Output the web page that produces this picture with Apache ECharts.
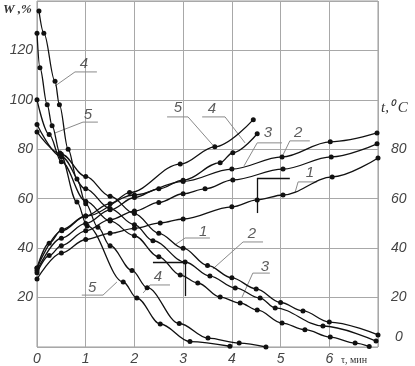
<!DOCTYPE html>
<html><head><meta charset="utf-8">
<script src="https://cdn.jsdelivr.net/npm/echarts@6/dist/echarts.min.js"></script>
<style>html,body{margin:0;padding:0;background:#fff}#c{width:415px;height:366px}</style>
</head><body><div id="c"></div>
<script>
// tick labels
const xTickLabels = [0, 1, 2, 3, 4, 5, 6];
const wTickLabels = [20, 40, 60, 80, 100, 120];
const tTickLabels = [0, 20, 40, 60, 80];

// moisture W, % (left axis) vs time, min
const w1X = [0, 0.5, 1, 1.5, 2, 2.5, 3, 3.5, 4, 4.5, 5, 5.46, 6, 7];
const w1Y = [87, 78, 69, 61, 54, 46, 40, 33, 28, 23.5, 18, 14.6, 10.1, 4.9];
const w2X = [0, 0.5, 1, 1.5, 2, 2.38, 3.04, 3.55, 4.07, 4.58, 4.89, 5.87, 6.96];
const w2Y = [90, 77, 64, 56, 49.5, 43, 34.4, 28.7, 23.9, 19.8, 15.8, 8.5, 2.4];
const w3X = [0, 0.25, 0.5, 1, 1.5, 2, 2.5, 2.94, 3.3, 3.76, 4.17, 4.52, 5.03, 5.5, 6.02, 6.53, 6.82];
const w3Y = [100, 86, 75, 59, 51, 45, 36.5, 29.1, 25.9, 20.2, 17.8, 15, 9.7, 7, 4, 1.6, 0.2];
const w4X = [0.04, 0.14, 0.37, 0.46, 0.64, 0.82, 1.0, 1.25, 1.5, 1.95, 2.26, 2.92, 3.51, 4.15, 4.7];
const w4Y = [136, 127, 107.5, 98, 80, 68, 58, 48.5, 41, 31, 24, 9.5, 3.6, 1.6, 0];
const w5X = [0, 0.06, 0.21, 0.31, 0.47, 0.82, 1.03, 1.77, 2.05, 2.53, 3.14, 3.96];
const w5Y = [127, 113, 98, 89.5, 78.5, 58.7, 49, 26.3, 19.8, 9.3, 2.2, 0.3];

// temperature t, °C (right axis) vs time, min
const t1X = [0, 0.5, 1, 1.5, 2, 2.53, 3, 4, 4.52, 5.05, 6.06, 7];
const t1Y = [27.5, 38, 43.5, 46, 48, 50.2, 51.8, 56.7, 59.5, 61.5, 68.8, 76.5];
const t2X = [0, 0.51, 1, 2, 3, 4, 5.03, 6.02, 6.98];
const t2Y = [32, 47, 53, 61.5, 67, 72, 76.9, 83, 86.6];
const t3X = [0, 0.25, 0.5, 1, 1.5, 2, 2.5, 3, 3.45, 4.02, 5.05, 6.04, 6.98];
const t3Y = [30, 37, 41, 47, 51.5, 55, 58.5, 62, 64, 67.6, 72, 76.9, 82.2];
const t4X = [0, 0.5, 1, 1.5, 2, 2.5, 3, 3.76, 4.02, 4.52];
const t4Y = [31, 44, 50, 55.5, 60.5, 64, 67.5, 74.6, 78.6, 86.3];
const t5X = [0, 0.25, 0.51, 1, 1.5, 1.9, 2.94, 3.65, 4.44];
const t5Y = [32, 42, 47.5, 53, 58, 62.5, 74, 81, 92];

// curve number annotations (data coordinates): text point and leader polyline
const annotations = [
  {text: '4', at: [0.965, 114.5], leader: [[1.23, 111.3], [0.78, 111.3], [0.37, 105.6]]},
  {text: '5', at: [1.047, 94], leader: [[1.25, 91], [0.944, 91], [0.37, 86.6]]},
  {text: '5', at: [2.895, 96.7], leader: [[2.67, 93.1], [3.1, 93.1], [3.61, 81.7]]},
  {text: '4', at: [3.59, 96.3], leader: [[3.39, 93.1], [3.86, 93.1], [4.27, 82.6]]},
  {text: '3', at: [4.74, 86.5], leader: [[5.03, 82.6], [4.52, 82.6], [4.25, 73.3]]},
  {text: '2', at: [5.36, 86.5], leader: [[5.6, 83.4], [5.19, 83.4], [5.03, 76.9]]},
  {text: '1', at: [5.6, 70.4], leader: [[5.75, 66.8], [5.36, 66.8], [5.3, 62.7]]},
  {text: '1', at: [3.41, 46.5], leader: [[3.55, 44.1], [3.04, 44.1], [2.83, 41.3]]},
  {text: '2', at: [4.41, 45.7], leader: [[4.64, 42.5], [4.23, 42.5], [3.61, 31.6]]},
  {text: '3', at: [4.68, 32.4], leader: [[4.78, 29.9], [4.43, 29.9], [4.21, 20.2]]},
  {text: '4', at: [2.48, 28.3], leader: [[2.73, 25.1], [2.32, 25.1], [2.18, 21.9]]},
  {text: '5', at: [1.13, 23.9], leader: [[0.92, 21], [1.355, 21], [1.64, 26.3]]}
];
// axis-direction arrows (data coordinates)
const arrows = [
  [[4.52, 68.4], [5.19, 68.4]],
  [[4.52, 68.4], [4.52, 54.2]],
  [[3.04, 34.4], [2.38, 34.4]],
  [[3.04, 34.4], [3.04, 20.6]]
];

const pairs = (xs, ys) => xs.map((x, i) => [x, ys[i]]);
const labelFont = 'Liberation Sans Narrow, Liberation Sans, sans-serif';
const curveColor = '#111';
function curve(name, xs, ys, axis) {
  return {
    name, type: 'line', yAxisIndex: axis, data: pairs(xs, ys),
    smooth: 0.35, smoothMonotone: 'x',
    symbol: 'circle', symbolSize: 5, showSymbol: true,
    lineStyle: {color: curveColor, width: 1.3},
    itemStyle: {color: curveColor},
    animation: false, silent: true, z: 3
  };
}

const series = [
  curve('W1', w1X, w1Y, 0), curve('W2', w2X, w2Y, 0), curve('W3', w3X, w3Y, 0),
  curve('W4', w4X, w4Y, 0), curve('W5', w5X, w5Y, 0),
  curve('t1', t1X, t1Y, 1), curve('t2', t2X, t2Y, 1), curve('t3', t3X, t3Y, 1),
  curve('t4', t4X, t4Y, 1), curve('t5', t5X, t5Y, 1)
];
annotations.forEach(a => {
  series.push({
    type: 'line', data: a.leader, symbol: 'none', smooth: false,
    lineStyle: {color: '#8a8a8a', width: 1}, animation: false, silent: true, z: 2
  });
});
series.push({
  type: 'scatter', symbolSize: 1, itemStyle: {color: 'rgba(0,0,0,0)'},
  data: annotations.map(a => ({value: a.at, name: a.text})),
  label: {show: true, position: 'inside', formatter: '{b}', fontSize: 15,
    fontStyle: 'italic', fontFamily: labelFont, color: '#333'},
  animation: false, silent: true, z: 4
});
series.push({
  type: 'line', data: [], symbol: 'none', animation: false, silent: true,
  markLine: {
    silent: true, animation: false, symbol: ['none', 'arrow'], symbolSize: [0, 9],
    lineStyle: {color: '#111', width: 1.3, type: 'solid'},
    label: {show: false},
    data: arrows.map(a => [{coord: a[0]}, {coord: a[1]}])
  }
});

const chart = echarts.init(document.getElementById('c'), null, {renderer: 'canvas'});
const tickStyle = {fontSize: 14, fontStyle: 'italic', fontFamily: labelFont, color: '#444'};
chart.setOption({
  backgroundColor: '#fff',
  animation: false,
  grid: {left: 37, right: 37, top: 1, bottom: 19, show: true, borderColor: '#9a9a9a', borderWidth: 1},
  xAxis: {
    type: 'value', min: 0, max: 7, interval: 1,
    axisLine: {show: false}, axisTick: {show: false},
    splitLine: {show: true, lineStyle: {color: '#a8a8a8', width: 1}},
    axisLabel: Object.assign({margin: 5, formatter: v => xTickLabels.includes(v) ? String(v) : ''}, tickStyle)
  },
  yAxis: [
    {
      type: 'value', min: 0, max: 140, interval: 20, position: 'left',
      axisLine: {show: false}, axisTick: {show: false},
      splitLine: {show: true, lineStyle: {color: '#a8a8a8', width: 1}},
      axisLabel: Object.assign({margin: 4, formatter: v => wTickLabels.includes(v) ? String(v) : ''}, tickStyle)
    },
    {
      type: 'value', min: 0, max: 140, interval: 20, position: 'right',
      axisLine: {show: false}, axisTick: {show: false}, splitLine: {show: false},
      axisLabel: Object.assign({
        margin: 13,
        formatter: v => tTickLabels.includes(v) ? (v === 0 ? '{z|0}' : String(v)) : '',
        rich: {z: {padding: [0, 0, 20, 4], fontSize: 14, fontStyle: 'italic', fontFamily: labelFont, color: '#444'}}
      }, tickStyle)
    }
  ],
  graphic: [
    {type: 'text', left: 3, top: 3, style: {text: 'W ,%', font: 'italic bold 13px "Liberation Serif", serif', fill: '#333'}},
    {type: 'text', left: 381, top: 101, style: {text: 't,\u2070 C', font: 'italic 15px "Liberation Serif", serif', fill: '#333'}},
    {type: 'text', left: 341, top: 355, style: {text: '\u03c4, мин', font: '10px "Liberation Serif", serif', fill: '#333'}}
  ],
  series
});
</script>
</body></html>
